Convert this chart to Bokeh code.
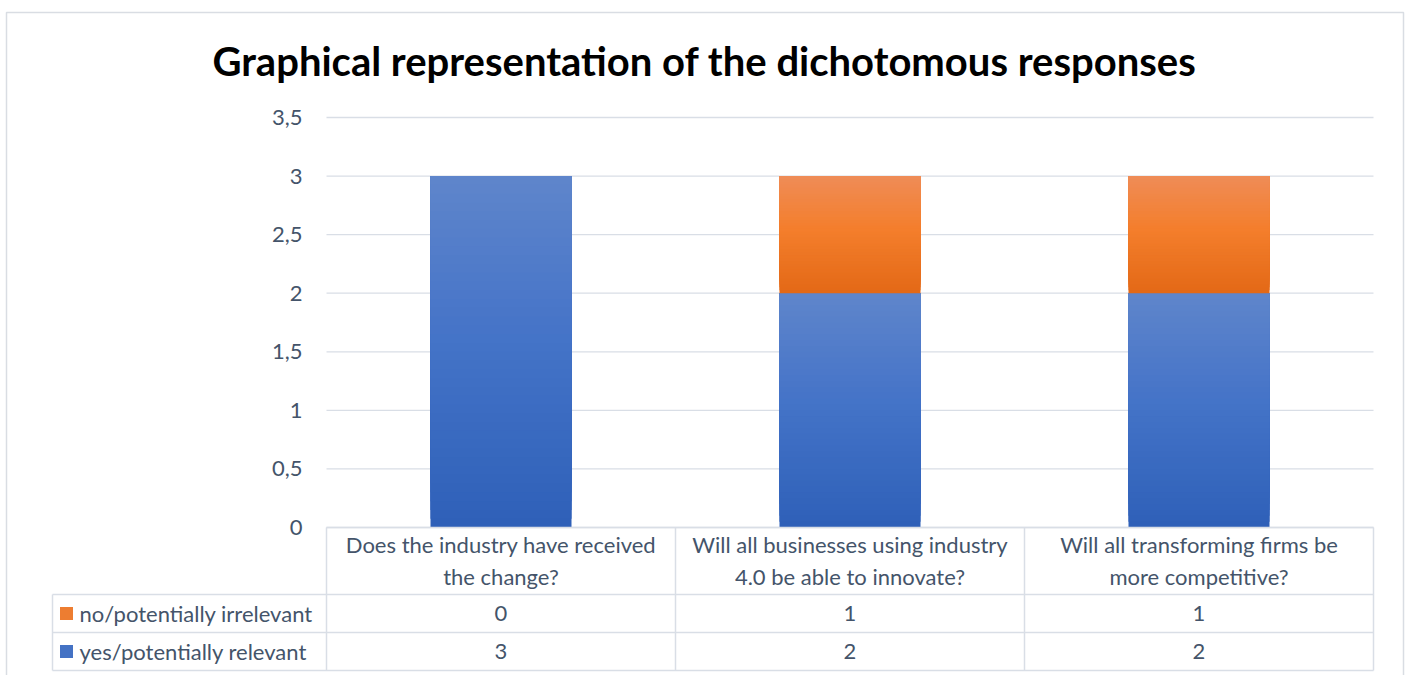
from bokeh.plotting import figure
from bokeh.models import ColumnDataSource, Range1d
from bokeh.core.properties import value
from bokeh.embed import file_html
from bokeh.resources import INLINE

# ---------------- data ----------------
title_text = "Graphical representation of the dichotomous responses"
categories = [
    "Does the industry have received the change?",
    "Will all businesses using industry 4.0 be able to innovate?",
    "Will all transforming firms be more competitive?",
]
category_labels = [
    "Does the industry have received\nthe change?",
    "Will all businesses using industry\n4.0 be able to innovate?",
    "Will all transforming firms be\nmore competitive?",
]
series_names = ["no/potentially irrelevant", "yes/potentially relevant"]
no_values = [0, 1, 1]
yes_values = [3, 2, 2]
y_ticks = [0, 0.5, 1, 1.5, 2, 2.5, 3, 3.5]
y_tick_labels = ["0", "0,5", "1", "1,5", "2", "2,5", "3", "3,5"]

# ---------------- layout (pixels) ----------------
W, H = 1411, 675
PX_LEFT, PX_RIGHT = 326, 1373
PY_ZERO, PY_TOP = 527, 117
Y_MAX = 3.5
n = len(categories)
ppx = (PX_RIGHT - PX_LEFT) / n
ppy = (PY_ZERO - PY_TOP) / Y_MAX


def dx(px):
    return (px - PX_LEFT) / ppx


def dy(py):
    return (PY_ZERO - py) / ppy


FONT = "Lato"
FS = "22px"
TXT = "#44546A"
GRID = "#D9DEE6"
BAR_W = 141 / ppx

p = figure(width=W, height=H, x_range=Range1d(dx(0), dx(W)), y_range=Range1d(dy(H), dy(0)),
           output_backend="svg", toolbar_location=None, min_border=0,
           x_axis_location=None, y_axis_location=None)
p.grid.visible = False
p.outline_line_color = None
p.background_fill_color = "white"
p.border_fill_color = "white"

# outer chart border
p.quad(left=[dx(6)], right=[dx(1403)], top=[dy(12)], bottom=[dy(H + 10)],
       fill_color=None, line_color="#D9DDE3", line_width=1.5)

# gridlines
p.segment(x0=[0] * len(y_ticks), x1=[n] * len(y_ticks), y0=y_ticks, y1=y_ticks,
          line_color=GRID, line_width=1.3)

# y tick labels
p.text(x=[dx(302)] * len(y_ticks), y=y_ticks, text=y_tick_labels, text_align="right",
       text_baseline="middle", text_font=value(FONT), text_font_size=value(FS), text_color=TXT)


# gradient bars
def hex2rgb(h):
    h = h.lstrip("#")
    return tuple(int(h[i:i + 2], 16) for i in (0, 2, 4))


def interp(stops, t):
    # stops: list of (t, hex) with t ascending (0 = bottom, 1 = top)
    for (t0, c0), (t1, c1) in zip(stops, stops[1:]):
        if t0 <= t <= t1:
            f = (t - t0) / (t1 - t0) if t1 > t0 else 0
            a, b = hex2rgb(c0), hex2rgb(c1)
            return "#%02x%02x%02x" % tuple(round(a[k] + (b[k] - a[k]) * f) for k in range(3))
    return stops[-1][1]


blue_stops = [(0.0, "#2E60B8"), (0.55, "#4574C8"), (1.0, "#5F85CB")]
orange_stops = [(0.0, "#E36916"), (0.55, "#F47E2C"), (1.0, "#EF8C57")]
NB = 40
L, R, B, T, C = [], [], [], [], []
for i in range(n):
    segs = [(0, yes_values[i], blue_stops), (yes_values[i], yes_values[i] + no_values[i], orange_stops)]
    for b0, t0, stops in segs:
        if t0 <= b0:
            continue
        for k in range(NB):
            L.append(i + 0.5 - BAR_W / 2)
            R.append(i + 0.5 + BAR_W / 2)
            B.append(b0 + (t0 - b0) * k / NB)
            T.append(t0)
            C.append(interp(stops, (k + 0.5) / NB))
p.quad(source=ColumnDataSource(dict(left=L, right=R, bottom=B, top=T, color=C)),
       left="left", right="right", bottom="bottom", top="top", fill_color="color", line_color=None)

# data table lines
row_py = [594, 632, 670]
p.segment(x0=[0], x1=[n], y0=[dy(527)], y1=[dy(527)], line_color=GRID, line_width=1.5)
p.segment(x0=[dx(52)] * 3, x1=[n] * 3, y0=[dy(v) for v in row_py], y1=[dy(v) for v in row_py],
          line_color=GRID, line_width=1.5)
p.segment(x0=list(range(n + 1)), x1=list(range(n + 1)), y0=[dy(527)] * (n + 1), y1=[dy(670)] * (n + 1),
          line_color=GRID, line_width=1.5)
p.segment(x0=[dx(52)], x1=[dx(52)], y0=[dy(594)], y1=[dy(670)], line_color=GRID, line_width=1.5)

# header row
p.text(x=[i + 0.5 for i in range(n)], y=[dy(560)] * n, text=category_labels, text_align="center",
       text_baseline="middle", text_font=value(FONT), text_font_size=value(FS), text_color=TXT,
       text_line_height=1.2)

# values rows
p.text(x=[i + 0.5 for i in range(n)], y=[dy(613)] * n, text=[str(v) for v in no_values],
       text_align="center", text_baseline="middle", text_font=value(FONT),
       text_font_size=value(FS), text_color=TXT)
p.text(x=[i + 0.5 for i in range(n)], y=[dy(651)] * n, text=[str(v) for v in yes_values],
       text_align="center", text_baseline="middle", text_font=value(FONT),
       text_font_size=value(FS), text_color=TXT)

# row labels with legend keys
p.rect(x=[dx(66), dx(66)], y=[dy(613), dy(651)], width=13, height=13, width_units="screen",
       height_units="screen", fill_color=["#ED7D31", "#4472C4"], line_color=None)
p.text(x=[dx(79), dx(79)], y=[dy(613), dy(651)], text=series_names, text_align="left",
       text_baseline="middle", text_font=value(FONT), text_font_size=value(FS), text_color=TXT)

# title
p.text(x=[dx(704)], y=[dy(60)], text=[title_text], text_align="center", text_baseline="middle",
       text_font=value(FONT), text_font_style="bold", text_font_size=value("40px"), text_color="black")

open("out.html", "w").write(file_html(p, INLINE))
